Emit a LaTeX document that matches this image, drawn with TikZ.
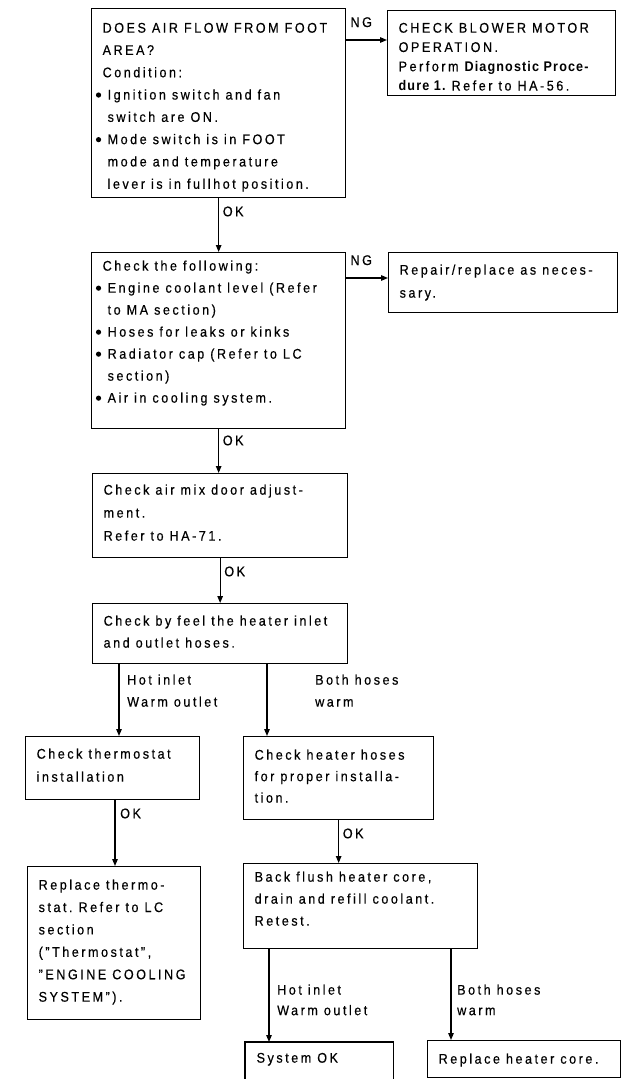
\documentclass[tikz,border=0pt]{standalone}
\usepackage{fontspec}
\setmainfont{Liberation Sans}[LetterSpace=18, FakeStretch=0.9, UprightFeatures={FakeBold=0.4}]
\newfontface\boldtight{Liberation Sans Bold}[LetterSpace=8, FakeStretch=0.9]
\usetikzlibrary{arrows.meta,calc}
\newcommand\bitem{\hspace*{5pt}\llap{\tikz[baseline=0pt]\fill (2.6pt,4.5pt) circle[radius=2.6pt];\hspace{6.5pt}}}
\newcommand\cont{\hspace*{5pt}}
\newcommand\bd[1]{{\boldtight #1}}
% #1 height, #2 text width, #3 first baseline offset, #4 text
\newcommand\bt[4]{\parbox[c][#1][t]{#2}{\raggedright\rule{0pt}{#3}#4}}
\begin{document}
\begin{tikzpicture}[x=1pt,y=-1pt,
  every node/.style={font=\fontsize{14}{22.3}\selectfont\frenchspacing},
  box/.style={draw, line width=1.3pt, anchor=north west, inner xsep=11pt, inner ysep=0pt},
  lbl/.style={inner sep=0pt, align=left, anchor=north west},
  nglbl/.style={inner sep=0pt, anchor=base west},
  arr/.style={line width=1.2pt, -{Triangle[length=7pt,width=5.5pt]}},
  edge/.style={line width=1.3pt}]
\useasboundingbox (0,0) rectangle (624,1079);
\clip (0,0) rectangle (624,1079);

\node[box] (b1) at (91,8)
 {\bt{189pt}{232pt}{24pt}{DOES AIR FLOW FROM FOOT\\
  AREA?\\
  Condition:\\
  \bitem Ignition switch and fan\\
  \cont switch are ON.\\
  \bitem Mode switch is in FOOT\\
  \cont mode and temperature\\
  \cont lever is in fullhot position.}};

\node[box] (b2) at (387,10)
 {\bt{85pt}{206pt}{22pt}{\fontsize{14}{19.3}\selectfont CHECK BLOWER MOTOR\\
  OPERATION.\\
  \mbox{Perform \bd{Diagnostic Proce-}}\\
  \bd{dure 1.} Refer to HA-56.}};

\node[box] (b3) at (91,252)
 {\bt{176pt}{232pt}{18pt}{\fontsize{14}{22}\selectfont Check the following:\\
  \bitem Engine coolant level (Refer\\
  \cont to MA section)\\
  \bitem Hoses for leaks or kinks\\
  \bitem Radiator cap (Refer to LC\\
  \cont section)\\
  \bitem Air in cooling system.}};

\node[box] (b4) at (388,252)
 {\bt{60pt}{207pt}{22pt}{\fontsize{14}{23}\selectfont Repair/replace as neces-\\
  sary.}};

\node[box] (b5) at (92,473)
 {\bt{84pt}{233pt}{21pt}{\fontsize{14}{23}\selectfont Check air mix door adjust-\\
  ment.\\
  Refer to HA-71.}};

\node[box] (b6) at (92,603)
 {\bt{60pt}{233pt}{22pt}{\fontsize{14}{22}\selectfont Check by feel the heater inlet\\
  and outlet hoses.}};

\node[box] (b7) at (25,736)
 {\bt{63pt}{152pt}{22pt}{\fontsize{14}{23}\selectfont Check thermostat\\
  installation}};

\node[box] (b8) at (243,736)
 {\bt{83pt}{168pt}{23pt}{\fontsize{14}{21.5}\selectfont Check heater hoses\\
  for proper installa-\\
  tion.}};

\node[box] (b9) at (27,866)
 {\bt{153pt}{151pt}{23pt}{\fontsize{14}{22.4}\selectfont Replace thermo-\\
  stat. Refer to LC\\
  section\\
  ("Thermostat",\\
  "ENGINE COOLING\\
  SYSTEM").}};

\node[box] (b10) at (243,863)
 {\bt{85pt}{212pt}{18pt}{\fontsize{14}{22}\selectfont Back flush heater core,\\
  drain and refill coolant.\\
  Retest.}};

\node[box, draw=none] (b11) at (245,1042)
 {\bt{37pt}{125pt}{20pt}{System OK}};
\draw[edge] (b11.south west) |- (b11.north east) -- (b11.south east);

\node[box] (b12) at (427,1040)
 {\bt{37pt}{171pt}{23pt}{Replace heater core.}};

% connectors
\draw[arr] (b1.south) -- (b3.north);
\draw[arr] (b3.south) -- (b3.south |- b5.north);
\draw[arr] (b5.south) -- (b5.south |- b6.north);

\coordinate (n1) at ([yshift=-32pt]b1.north east);
\draw[arr] (n1) -- (n1 -| b2.west);
\coordinate (n2) at ([yshift=-26pt]b3.north east);
\draw[arr] (n2) -- (n2 -| b4.west);

\coordinate (c1) at ([xshift=27pt]b6.south west);
\coordinate (c2) at ([xshift=175pt]b6.south west);
\draw[arr] (c1) -- (c1 |- b7.north);
\draw[arr] (c2) -- (c2 |- b8.north);

\coordinate (c3) at ([xshift=90pt]b7.south west);
\draw[arr] (c3) -- (c3 |- b9.north);
\draw[arr] (b8.south) -- (b8.south |- b10.north);

\coordinate (c5) at ([xshift=26pt]b10.south west);
\coordinate (c6) at ([xshift=208pt]b10.south west);
\draw[arr] (c5) -- (c5 |- b11.north);
\draw[arr] (c6) -- (c6 |- b12.north);

% labels
\node[nglbl] (ng1) at ([xshift=4pt,yshift=13pt]n1) {NG};
\node[nglbl] (ng2) at ([xshift=4pt,yshift=13pt]n2) {NG};
\node[lbl] (ok1) at ([xshift=4pt,yshift=-8pt]b1.south) {OK};
\node[lbl] (ok2) at ([xshift=4pt,yshift=-6pt]b3.south) {OK};
\node[lbl] (ok3) at ([xshift=4pt,yshift=-8pt]b5.south) {OK};
\node[lbl] (ok4) at ([xshift=5pt,yshift=-8pt]c3) {OK};
\node[lbl] (ok5) at ([xshift=4pt,yshift=-8pt]b8.south) {OK};
\node[lbl, font=\fontsize{14}{22}\selectfont] (hl1) at ([xshift=8pt,yshift=-10pt]c1) {Hot inlet\\Warm outlet};
\node[lbl, font=\fontsize{14}{22}\selectfont] (bh1) at ([xshift=48pt,yshift=-10pt]c2) {Both hoses\\warm};
\node[lbl, font=\fontsize{14}{20.5}\selectfont] (hl2) at ([xshift=8pt,yshift=-35pt]c5) {Hot inlet\\Warm outlet};
\node[lbl, font=\fontsize{14}{20.5}\selectfont] (bh2) at ([xshift=6pt,yshift=-35pt]c6) {Both hoses\\warm};
\end{tikzpicture}
\end{document}
